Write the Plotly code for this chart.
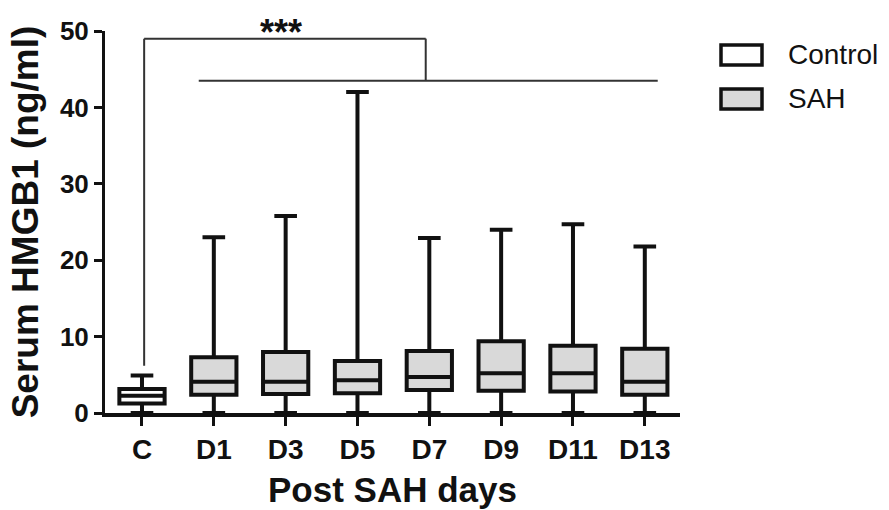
import plotly.graph_objects as go

# Serum HMGB1 (ng/ml): control group vs. post-SAH days
categories = ["C", "D1", "D3", "D5", "D7", "D9", "D11", "D13"]
groups = ["Control", "SAH", "SAH", "SAH", "SAH", "SAH", "SAH", "SAH"]
q1_vals = [1.25, 2.4, 2.5, 2.6, 3.0, 2.9, 2.8, 2.4]
median_vals = [2.25, 4.1, 4.1, 4.3, 4.7, 5.2, 5.2, 4.1]
q3_vals = [3.15, 7.3, 8.0, 6.8, 8.1, 9.4, 8.8, 8.4]
min_vals = [0.0, 0.0, 0.0, 0.0, 0.0, 0.0, 0.0, 0.0]
max_vals = [4.9, 23.0, 25.8, 42.0, 22.9, 24.0, 24.7, 21.8]
y_ticks = [0, 10, 20, 30, 40, 50]

FONT = "Liberation Sans, Arial, sans-serif"
INK = "#111111"
FILLS = {"Control": "#ffffff", "SAH": "#d9d9d9"}

W, H = 889, 510
ML, MR, MT, MB = 105, 209, 31, 97
PW, PH = W - ML - MR, H - MT - MB


def px_x(x):
    return (x - ML) / PW


def px_y(y):
    return (H - MB - y) / PH


fig = go.Figure()
for name in ["Control", "SAH"]:
    idx = [i for i, g in enumerate(groups) if g == name]
    fig.add_trace(go.Box(
        name=name,
        x=idx,
        q1=[q1_vals[i] for i in idx],
        median=[median_vals[i] for i in idx],
        q3=[q3_vals[i] for i in idx],
        lowerfence=[min_vals[i] for i in idx],
        upperfence=[max_vals[i] for i in idx],
        width=0.63,
        whiskerwidth=0.5,
        fillcolor=FILLS[name],
        line=dict(color=INK, width=4),
        boxpoints=False,
        hoverinfo="skip",
        showlegend=False,
    ))

shapes = []
# significance bracket: control vs. all SAH days
thin = dict(color="#333333", width=2)
top_y, low_y = 49.0, 43.5
shapes += [
    dict(type="line", xref="x", yref="y", x0=0.03, x1=3.95, y0=top_y, y1=top_y, line=thin),
    dict(type="line", xref="x", yref="y", x0=0.03, x1=0.03, y0=top_y, y1=6.2, line=thin),
    dict(type="line", xref="x", yref="y", x0=3.95, x1=3.95, y0=top_y, y1=low_y, line=thin),
    dict(type="line", xref="x", yref="y", x0=0.79, x1=7.18, y0=low_y, y1=low_y, line=thin),
]

annotations = [
    dict(text="<b>***</b>", xref="x", yref="paper", x=1.93, y=px_y(55),
         xanchor="center", yanchor="bottom", showarrow=False,
         font=dict(family=FONT, size=36, color=INK)),
]

# legend drawn as swatches with labels
legend_rows = [("Control", 45, 65), ("SAH", 89, 109)]
for name, ytop, ybot in legend_rows:
    shapes.append(dict(type="rect", xref="paper", yref="paper",
                       x0=px_x(721), x1=px_x(762), y0=px_y(ybot), y1=px_y(ytop),
                       fillcolor=FILLS[name], line=dict(color=INK, width=3.5)))
    annotations.append(dict(text=name, xref="paper", yref="paper",
                            x=px_x(786), y=px_y((ytop + ybot) / 2),
                            xanchor="left", yanchor="middle", showarrow=False,
                            font=dict(family=FONT, size=28, color=INK)))

fig.update_layout(
    width=W, height=H,
    margin=dict(l=ML, r=MR, t=MT, b=MB, autoexpand=False),
    paper_bgcolor="white", plot_bgcolor="white",
    boxmode="overlay",
    shapes=shapes,
    annotations=annotations,
    showlegend=False,
    font=dict(family=FONT, color=INK),
)
fig.update_xaxes(
    range=[-0.515, 7.49],
    tickmode="array", tickvals=list(range(len(categories))), ticktext=categories,
    showline=True, linewidth=3.5, linecolor=INK, mirror=False,
    ticks="outside", ticklen=9, tickwidth=3, tickcolor=INK,
    tickfont=dict(family=FONT, size=28, color=INK, weight="bold"),
    showgrid=False, zeroline=False,
    title=dict(text="Post SAH days", standoff=14,
               font=dict(family=FONT, size=35, color=INK, weight="bold")),
)
fig.update_yaxes(
    range=[0, 50],
    tickmode="array", tickvals=y_ticks,
    showline=True, linewidth=3, linecolor=INK,
    ticks="outside", ticklen=8, tickwidth=3, tickcolor=INK,
    tickfont=dict(family=FONT, size=26, color=INK, weight="bold"),
    showgrid=False, zeroline=False,
    title=dict(text="Serum HMGB1 (ng/ml)", standoff=10,
               font=dict(family=FONT, size=37, color=INK, weight="bold")),
)

fig.write_html("out.html")
